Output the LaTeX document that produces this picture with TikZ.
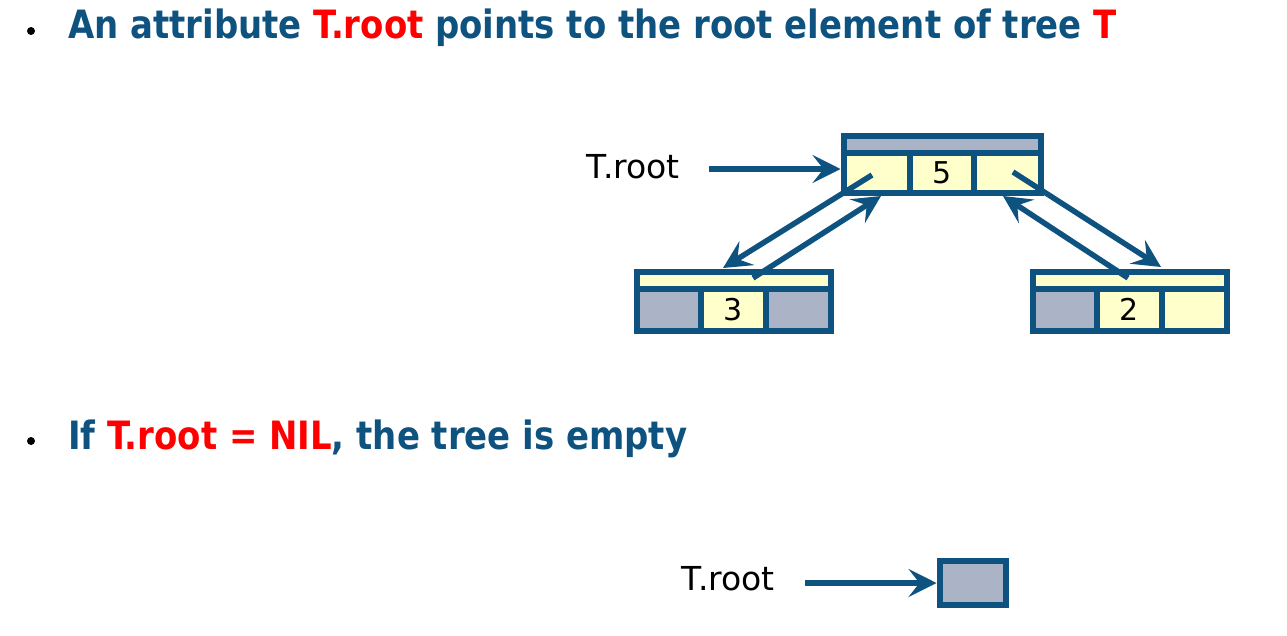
\documentclass[tikz,border=0pt]{standalone}
\usepackage{fontspec}
\setmainfont{DejaVu Sans}
\newfontfamily\headfont{DejaVu Sans Condensed}[FakeStretch=0.967]
\usetikzlibrary{arrows.meta}
\definecolor{dblue}{RGB}{14,82,128}
\definecolor{cgray}{RGB}{170,180,198}
\definecolor{cyel}{RGB}{255,255,204}
\definecolor{tred}{RGB}{255,0,0}
\begin{document}
\begin{tikzpicture}[x=1pt,y=-1pt,
  cellbox/.style={draw=dblue,line width=6pt,inner sep=0pt,outer sep=0pt,
    font=\fontsize{30}{30}\selectfont},
  gcell/.style={cellbox,fill=cgray},
  ycell/.style={cellbox,fill=cyel},
  arr/.style={draw=dblue,line width=5.5pt,-{Stealth[length=28pt,width=28pt,inset=11pt]}},
  lbl/.style={font=\fontsize{33}{33}\selectfont,text=black,inner sep=0pt},
  head/.style={font=\headfont\bfseries\fontsize{39}{48}\selectfont,text=dblue,inner sep=0pt,anchor=base west},
  bul/.style={circle,fill=black,inner sep=0pt,minimum size=8pt}
]
\useasboundingbox (0,0) rectangle (1287,635);

% headings
\node[bul] (b1) at (31,31) {};
\node[head] (t1) at (68,38) {An attribute \textcolor{tred}{T.root} points to the root element of tree \textcolor{tred}{T}};
\node[bul] (b2) at (31,441) {};
\node[head] (t2) at (68,449) {If \textcolor{tred}{T.root = NIL}, the tree is empty};

% root node
\node[gcell,minimum width=197pt,minimum height=17.5pt] (rTop) at (942,144.25) {};
\node[ycell,minimum width=66.5pt,minimum height=39.5pt] (rL) at (876.75,172.75) {};
\node[ycell,minimum width=64pt,minimum height=39.5pt] (rM) at (942,172.75) {5};
\node[ycell,minimum width=66.5pt,minimum height=39.5pt] (rR) at (1007.25,172.75) {};

% left child
\node[ycell,minimum width=194pt,minimum height=17.5pt] (lTop) at (733.5,280.25) {};
\node[gcell,minimum width=64.5pt,minimum height=41.5pt] (lL) at (668.75,309.75) {};
\node[ycell,minimum width=65pt,minimum height=41.5pt] (lM) at (733.5,309.75) {3};
\node[gcell,minimum width=64.5pt,minimum height=41.5pt] (lR) at (798.25,309.75) {};

% right child
\node[ycell,minimum width=194pt,minimum height=17.5pt] (gTop) at (1129.5,280.25) {};
\node[gcell,minimum width=64.5pt,minimum height=41.5pt] (gL) at (1064.75,309.75) {};
\node[ycell,minimum width=65pt,minimum height=41.5pt] (gM) at (1129.5,309.75) {2};
\node[ycell,minimum width=64.5pt,minimum height=41.5pt] (gR) at (1194.25,309.75) {};

% labels
\node[lbl,anchor=base east] (lab1) at (680,178) {T.root};
\node[lbl,anchor=base east] (lab2) at (775,590) {T.root};

% empty tree box
\node[gcell,minimum width=66pt,minimum height=44pt] (nil) at (972.5,582.5) {};

% arrows
\coordinate (a0) at (709,169);
\draw[arr,shorten >=3pt] (a0) -- (a0 -| rL.west);
\coordinate (a1) at (805,583);
\draw[arr,shorten >=3pt] (a1) -- (a1 -| nil.west);

\coordinate (d1s) at (872,175);
\coordinate (d1e) at (723,268);
\draw[arr] (d1s) -- (d1e);
\coordinate (d2s) at (753,278);
\coordinate (d2e) at (881,196);
\draw[arr] (d2s) -- (d2e);
\coordinate (d3s) at (1013,172);
\coordinate (d3e) at (1161,267);
\draw[arr] (d3s) -- (d3e);
\coordinate (d4s) at (1128,278);
\coordinate (d4e) at (1003,196);
\draw[arr] (d4s) -- (d4e);
\end{tikzpicture}
\end{document}
